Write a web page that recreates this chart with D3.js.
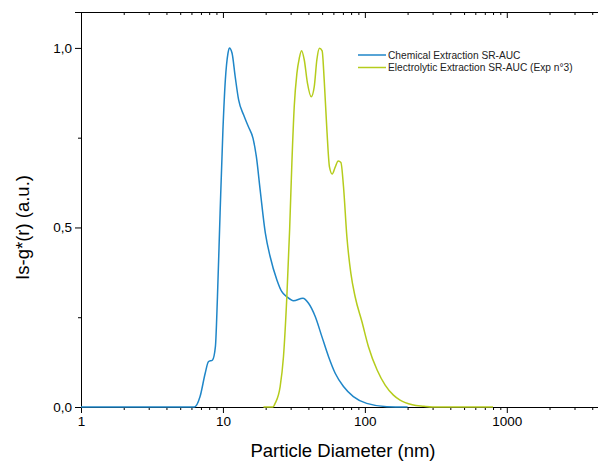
<!DOCTYPE html>
<html>
<head>
    <meta charset="utf-8">
    <title>SR-AUC size distribution</title>
    <style>
        body { margin: 0; background: #fff; }
        svg { display: block; font-family: "Liberation Sans", Arial, sans-serif; }
        .axis path, .axis line { stroke: #000; stroke-width: 1px; }
        .axis text { fill: #000; font-size: 13.5px; }
        .curve { fill: none; stroke-width: 1.5px; }
    </style>
    <script src="https://cdn.jsdelivr.net/npm/d3@7"></script>
</head>
<body>
<script>
    // chemical extraction: diameter (nm), signal
    const chemD = [1, 6.3, 6.9, 7.5, 7.9, 8.45, 8.85, 9.15, 9.55, 10.0, 10.4, 10.85, 11.1, 11.6, 12.2, 12.9,
        14.0, 15.1, 16.3, 17.2, 18.3, 19.9, 21.5, 24.0, 26.0, 28.2, 31.4, 36.6, 40.1, 44.7, 49.8, 55.5,
        61.8, 70.7, 83, 103, 143, 200];
    const chemY = [0, 0, 0.029, 0.094, 0.126, 0.131, 0.168, 0.307, 0.54, 0.772, 0.911, 0.985, 1.0, 0.985, 0.92, 0.855,
        0.813, 0.781, 0.748, 0.697, 0.604, 0.484, 0.419, 0.354, 0.321, 0.307, 0.296, 0.303, 0.289, 0.252, 0.196, 0.140,
        0.094, 0.057, 0.029, 0.010, 0.001, 0];

    // electrolytic extraction (exp 3)
    const elecD = [19.3, 22.5, 23.3, 25.3, 26.7, 28.2, 29.5, 30.6, 31.8, 33.2, 34.5, 35.8, 37.4, 39.4, 41.9, 44.0,
        45.9, 47.9, 50.0, 51.7, 54.0, 56.3, 58.9, 61.8, 64.9, 67.8, 70.7, 74.7, 79.7, 85.4, 95.3, 106,
        122, 139, 159, 177, 216, 260, 300, 800];
    const elecY = [0, 0, 0.010, 0.057, 0.14, 0.307, 0.493, 0.679, 0.837, 0.929, 0.971, 0.992, 0.967, 0.902, 0.864, 0.892,
        0.967, 0.999, 0.992, 0.911, 0.772, 0.669, 0.649, 0.668, 0.685, 0.681, 0.614, 0.474, 0.372, 0.307, 0.238, 0.168,
        0.103, 0.061, 0.033, 0.019, 0.006, 0.002, 0, 0];

    const seriesNames = ["Chemical Extraction SR-AUC", "Electrolytic Extraction SR-AUC (Exp n°3)"];
    const seriesColors = ["#1f86c8", "#b5cc1c"];

    const xMajor = [1, 10, 100, 1000];
    const yMajor = [0, 0.5, 1.0];
    const yMinor = [0.25, 0.75];

    const width = 598, height = 463;
    const margin = {left: 81, top: 12, bottom: 56};

    const x = d3.scaleLog().domain([1, 5000]).range([margin.left, 606]);
    const y = d3.scaleLinear().domain([0, 1.1]).range([height - margin.bottom, margin.top]);

    const xMinor = [];
    for (let dec = 1; dec <= 1000; dec *= 10)
        for (let k = 2; k <= 9; k++) xMinor.push(k * dec);

    const svg = d3.select('body').append('svg')
        .attr('width', width)
        .attr('height', height);

    const fmt = d => d3.format('.1f')(d).replace('.', ',');

    // bottom axis
    svg.append('g')
        .attr('class', 'axis')
        .attr('transform', 'translate(0,' + y(0) + ')')
        .call(d3.axisBottom(x).tickValues(xMajor).tickFormat(d3.format('d')).tickSizeOuter(0).tickSize(6).tickPadding(3));
    svg.append('g')
        .attr('class', 'axis')
        .attr('transform', 'translate(0,' + y(0) + ')')
        .call(d3.axisBottom(x).tickValues(xMinor).tickFormat('').tickSizeOuter(0).tickSize(3))
        .select('.domain').remove();

    // top axis, ticks inward
    svg.append('g')
        .attr('class', 'axis')
        .attr('transform', 'translate(0,' + margin.top + ')')
        .call(d3.axisBottom(x).tickValues(xMajor).tickFormat('').tickSizeOuter(0).tickSize(6));
    svg.append('g')
        .attr('class', 'axis')
        .attr('transform', 'translate(0,' + margin.top + ')')
        .call(d3.axisBottom(x).tickValues(xMinor).tickFormat('').tickSize(3))
        .select('.domain').remove();

    // left axis
    svg.append('g')
        .attr('class', 'axis')
        .attr('transform', 'translate(' + margin.left + ',0)')
        .call(d3.axisLeft(y).tickValues(yMajor).tickFormat(fmt).tickSizeOuter(0).tickSize(6).tickPadding(3));
    svg.append('g')
        .attr('class', 'axis')
        .attr('transform', 'translate(' + margin.left + ',0)')
        .call(d3.axisLeft(y).tickValues(yMinor).tickFormat('').tickSize(3))
        .select('.domain').remove();

    // curves
    const line = d3.line()
        .x(d => x(d[0]))
        .y(d => y(d[1]))
        .curve(d3.curveMonotoneX);

    const series = [d3.zip(chemD, chemY), d3.zip(elecD, elecY)];

    svg.append('g')
        .selectAll('path')
        .data(series)
        .enter().append('path')
        .attr('class', 'curve')
        .attr('stroke', (d, i) => seriesColors[i])
        .attr('d', line);

    // legend
    const legend = svg.append('g')
        .selectAll('g')
        .data(seriesNames)
        .enter().append('g')
        .attr('transform', (d, i) => 'translate(358,' + (55 + i * 12.5) + ')');
    legend.append('line')
        .attr('x1', 0).attr('x2', 28)
        .attr('stroke', (d, i) => seriesColors[i])
        .attr('stroke-width', 1.5);
    legend.append('text')
        .attr('x', 30)
        .attr('dy', '0.35em')
        .style('font-size', '10.2px')
        .attr('fill', '#222')
        .text(d => d);

    // axis titles
    svg.append('text')
        .attr('x', 343)
        .attr('y', 457)
        .style('text-anchor', 'middle')
        .style('font-size', '18.5px')
        .text('Particle Diameter (nm)');

    svg.append('text')
        .attr('transform', 'translate(29,' + y(0.5) + ') rotate(-90)')
        .style('text-anchor', 'middle')
        .style('font-size', '18.5px')
        .text('Is-g*(r) (a.u.)');
</script>
</body>
</html>
